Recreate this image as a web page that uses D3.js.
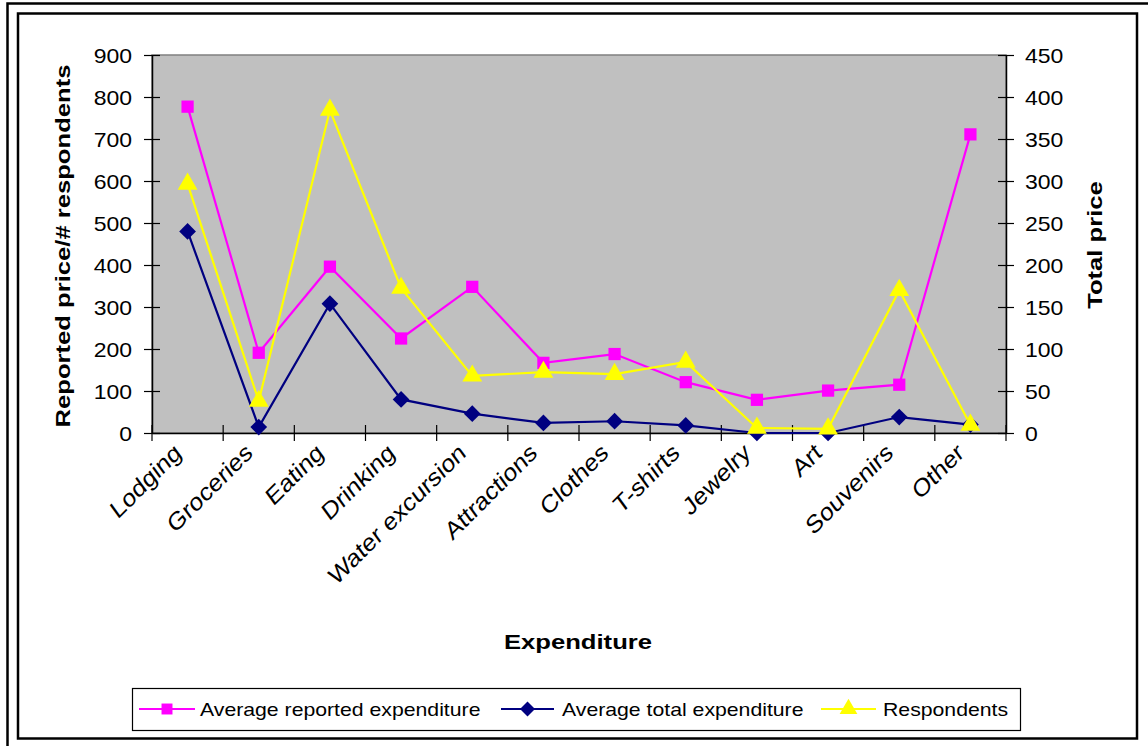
<!DOCTYPE html>
<html>
<head>
<meta charset="utf-8">
<script src="https://cdn.jsdelivr.net/npm/d3@7"></script>
<style>
html,body{margin:0;padding:0;background:#fff;}
svg{display:block;font-family:"Liberation Sans",Arial,sans-serif;}
</style>
</head>
<body>
<svg id="chart" width="1148" height="746"></svg>
<script>
const categories = ["Lodging","Groceries","Eating","Drinking","Water excursion","Attractions","Clothes","T-shirts","Jewelry","Art","Souvenirs","Other"];
const avgReported = [777, 191, 396, 225, 348, 167, 188, 121, 79, 101, 115, 711];
const avgTotal = [240, 7, 154, 40, 23, 12, 14, 9, 0, 0, 19, 10];
const respondents = [593, 76, 769, 345, 136, 145, 140, 169, 12, 10, 340, 19];
const leftTicks = [0,100,200,300,400,500,600,700,800,900];
const rightTicks = [0,50,100,150,200,250,300,350,400,450];
const seriesNames = ["Average reported expenditure","Average total expenditure","Respondents"];

const SX = 1.25;
const svg = d3.select("#chart");
const m = {l:152, r:1006, t:55, b:433};

// frames
svg.append("rect").attr("x",7.5).attr("y",3.5).attr("width",1170).attr("height",780)
  .attr("fill","none").attr("stroke","#000").attr("stroke-width",2.5);
svg.append("rect").attr("x",18).attr("y",13.5).attr("width",1119).attr("height",725)
  .attr("fill","none").attr("stroke","#000").attr("stroke-width",2.5);

const x = d3.scaleBand().domain(categories).range([m.l,m.r]).padding(0);
const yL = d3.scaleLinear().domain([0,900]).range([m.b,m.t]);
const yR = d3.scaleLinear().domain([0,450]).range([m.b,m.t]);
const cx = d => x(d) + x.bandwidth()/2;

// plot area
svg.append("rect").attr("x",m.l).attr("y",m.t).attr("width",m.r-m.l).attr("height",m.b-m.t)
  .attr("fill","#C0C0C0").attr("stroke","#808080").attr("stroke-width",1.5);

// axes
const gL = svg.append("g").attr("transform",`translate(${m.l},0)`)
  .call(d3.axisLeft(yL).tickValues(leftTicks).tickSizeInner(8).tickSizeOuter(0));
gL.selectAll(".tick line").attr("x2",8).attr("x1",-8).attr("stroke-width",1.2);
gL.select(".domain").attr("stroke-width",1.5);
gL.selectAll(".tick text").attr("font-size",20).attr("fill","#000")
  .attr("font-family","Liberation Sans, Arial, sans-serif")
  .attr("x",0).attr("text-anchor","end").attr("dy","0.36em")
  .attr("transform",`translate(-20,0) scale(1.15,1)`);

const gR = svg.append("g").attr("transform",`translate(${m.r},0)`)
  .call(d3.axisRight(yR).tickValues(rightTicks).tickSizeInner(8).tickSizeOuter(0));
gR.selectAll(".tick line").attr("x1",-8).attr("x2",8).attr("stroke-width",1.2);
gR.select(".domain").attr("stroke-width",1.5);
gR.selectAll(".tick text").attr("font-size",20).attr("fill","#000")
  .attr("font-family","Liberation Sans, Arial, sans-serif")
  .attr("x",0).attr("text-anchor","start").attr("dy","0.36em")
  .attr("transform",`translate(19,0) scale(1.15,1)`);

const gX = svg.append("g").attr("transform",`translate(0,${m.b})`)
  .call(d3.axisBottom(x).tickSize(0).tickFormat(""));
gX.select(".domain").attr("stroke-width",1.5);
// boundary ticks
const bounds = categories.map(c=>x(c)).concat([m.r]);
svg.append("g").selectAll("line").data(bounds).join("line")
  .attr("x1",d=>d).attr("x2",d=>d).attr("y1",m.b-8).attr("y2",m.b+8)
  .attr("stroke","#000").attr("stroke-width",1.2);

// category labels
svg.append("g").selectAll("text").data(categories).join("text")
  .attr("transform",d=>`translate(${cx(d)-5},${m.b+22}) rotate(-45) scale(1.12,1) skewX(-8)`)
  .attr("text-anchor","end").attr("font-size",23).attr("fill","#000")
  .text(d=>d);

// axis titles
svg.append("text").attr("transform",`translate(70,246) rotate(-90) scale(${SX},1)`)
  .attr("text-anchor","middle").attr("font-size",20.5).attr("font-weight","bold").text("Reported price/# respondents");
svg.append("text").attr("transform",`translate(1102,245) rotate(-90) scale(${SX},1)`)
  .attr("text-anchor","middle").attr("font-size",20.5).attr("font-weight","bold").text("Total price");
svg.append("text").attr("transform",`translate(578,649) scale(${SX},1)`)
  .attr("text-anchor","middle").attr("font-size",20.5).attr("font-weight","bold").text("Expenditure");

// series
const colors = ["#FF00FF","#000080","#FFFF00"];
const diamond = {draw(ctx, size){ const r = Math.sqrt(size/2); ctx.moveTo(0,-r); ctx.lineTo(r,0); ctx.lineTo(0,r); ctx.lineTo(-r,0); ctx.closePath(); }};
const symbols = [d3.symbolSquare, diamond, d3.symbolTriangle];
const symSizes = [150, 140, 170];
const series = [
  {vals:avgReported, y:yL},
  {vals:avgTotal, y:yR},
  {vals:respondents, y:yL}
];
const plotG = svg.append("g");
series.forEach((s,i)=>{
  const pts = categories.map((c,j)=>[cx(c), s.y(s.vals[j])]);
  plotG.append("path").attr("d",d3.line()(pts)).attr("fill","none")
    .attr("stroke",colors[i]).attr("stroke-width",2.2);
});
series.forEach((s,i)=>{
  const pts = categories.map((c,j)=>[cx(c), s.y(s.vals[j])]);
  plotG.append("g").selectAll("path").data(pts).join("path")
    .attr("transform",d=>`translate(${d[0]},${d[1]})`)
    .attr("d",d3.symbol().type(symbols[i]).size(symSizes[i]))
    .attr("fill",colors[i]);
});

// legend
const lg = svg.append("g");
lg.append("rect").attr("x",132.5).attr("y",688.5).attr("width",888).attr("height",42)
  .attr("fill","#fff").attr("stroke","#000").attr("stroke-width",1.2);
const legItems = [
  {lx1:139, lx2:195, tx:200},
  {lx1:501, lx2:554, tx:562},
  {lx1:821, lx2:876, tx:883}
];
legItems.forEach((it,i)=>{
  lg.append("line").attr("x1",it.lx1).attr("x2",it.lx2).attr("y1",709).attr("y2",709)
    .attr("stroke",colors[i]).attr("stroke-width",2.2);
  lg.append("path").attr("transform",`translate(${(it.lx1+it.lx2)/2},709)`)
    .attr("d",d3.symbol().type(symbols[i]).size(symSizes[i]*0.8)).attr("fill",colors[i]);
  lg.append("text").attr("transform",`translate(${it.tx},716) scale(1.18,1)`)
    .attr("font-size",18).attr("fill","#000").text(seriesNames[i]);
});
</script>
</body>
</html>
